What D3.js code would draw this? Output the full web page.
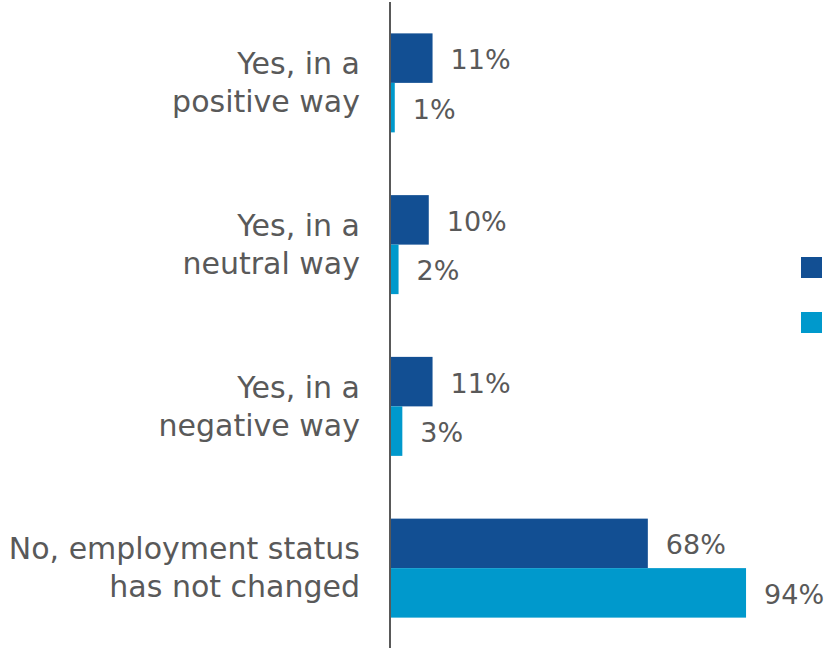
<!DOCTYPE html>
<html>
<head>
<meta charset="utf-8">
<script src="https://cdn.jsdelivr.net/npm/d3@7"></script>
<style>
  html, body { margin: 0; padding: 0; background: #fff; }
  svg { display: block; }
</style>
</head>
<body>
<svg id="chart" width="827" height="648"></svg>
<script>
// ---- data ----
const categories = [
  "Yes, in a positive way",
  "Yes, in a neutral way",
  "Yes, in a negative way",
  "No, employment status has not changed"
];
const categoryLines = [
  ["Yes, in a", "positive way"],
  ["Yes, in a", "neutral way"],
  ["Yes, in a", "negative way"],
  ["No, employment status", "has not changed"]
];
const seriesNames = ["Series 1", "Series 2"];
const series1 = [11, 10, 11, 68];
const series2 = [1, 2, 3, 94];
const seriesColors = ["#124F93", "#0099CC"];

// ---- layout ----
const svg = d3.select("#chart");
const W = 827, H = 648;
const axisX = 390;
const fontFamily = "'DejaVu Sans', sans-serif";
const textColor = "#595959";

const x = d3.scaleLinear().domain([0, 100]).range([axisX + 1, axisX + 1 + 377.7]);
const y = d3.scaleBand().domain(categories).range([2, 649])
  .paddingInner(0.388).paddingOuter(0.194);
const ySub = d3.scaleBand().domain(seriesNames).range([0, y.bandwidth()]);

const rows = categories.map((c, i) => ({
  cat: c, lines: categoryLines[i],
  values: [series1[i], series2[i]]
}));

const g = svg.append("g");

// bars
const groups = g.selectAll("g.grp").data(rows).join("g")
  .attr("class", "grp")
  .attr("transform", d => `translate(0,${y(d.cat)})`);

groups.selectAll("rect").data(d => d.values.map((v, k) => ({ v, k })))
  .join("rect")
  .attr("x", x(0))
  .attr("y", d => ySub(seriesNames[d.k]))
  .attr("width", d => x(d.v) - x(0))
  .attr("height", ySub.bandwidth())
  .attr("fill", d => seriesColors[d.k]);

// value labels
groups.selectAll("text.val").data(d => d.values.map((v, k) => ({ v, k })))
  .join("text")
  .attr("class", "val")
  .attr("x", d => x(d.v) + 18)
  .attr("y", d => ySub(seriesNames[d.k]) + ySub.bandwidth() / 2 + 11)
  .attr("font-family", fontFamily)
  .attr("font-size", 27)
  .attr("fill", textColor)
  .text(d => d.v + "%");

// category labels
const labels = g.selectAll("text.cat").data(rows).join("text")
  .attr("class", "cat")
  .attr("text-anchor", "end")
  .attr("font-family", fontFamily)
  .attr("font-size", 30)
  .attr("fill", textColor);
labels.each(function(d) {
  const cy = y(d.cat) + y.bandwidth() / 2;
  d3.select(this).selectAll("tspan").data(d.lines).join("tspan")
    .attr("x", axisX - 30)
    .attr("y", (l, j) => cy - 8.8 + j * 38)
    .text(l => l);
});

// axis line
const yAxis = d3.axisLeft(y).tickSize(0).tickFormat("");
const ax = svg.append("g").attr("transform", `translate(${axisX},0)`).call(yAxis);
ax.select(".domain").attr("stroke", "#595959").attr("stroke-width", 2)
  .attr("d", `M0,2V${H}`);

// legend (swatches only; labels fall outside the visible area)
const legend = svg.append("g");
legend.selectAll("rect").data(seriesNames).join("rect")
  .attr("x", 801)
  .attr("y", (d, i) => 257 + i * 55)
  .attr("width", 21)
  .attr("height", 21)
  .attr("fill", (d, i) => seriesColors[i]);
</script>
</body>
</html>
